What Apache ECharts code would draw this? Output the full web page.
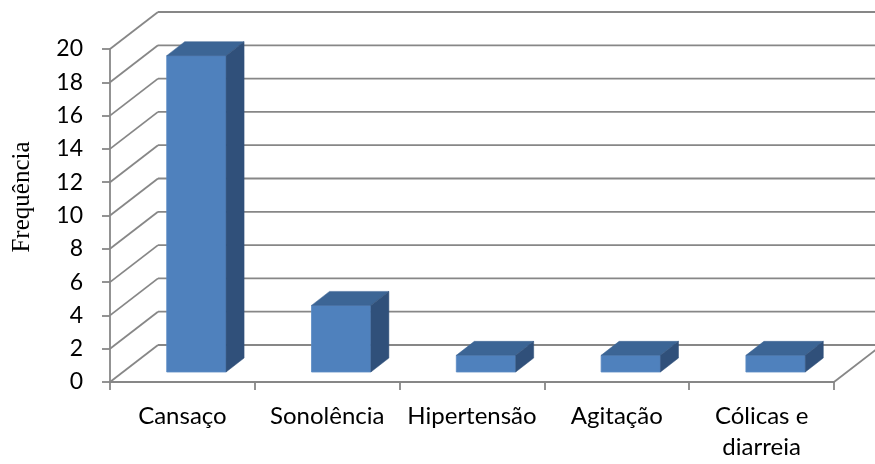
<!DOCTYPE html>
<html>
<head>
<meta charset="utf-8">
<script src="https://cdn.jsdelivr.net/npm/echarts@6/dist/echarts.min.js"></script>
<style>
  html, body { margin: 0; padding: 0; background: #fff; }
  #chart { width: 875px; height: 464px; }
</style>
</head>
<body>
<div id="chart"></div>
<script>
// Symptom frequencies
const categories = ['Cansaço', 'Sonolência', 'Hipertensão', 'Agitação', 'Cólicas e\ndiarreia'];
const frequencies = [19, 4, 1, 1, 1];
const yTicks = [0, 2, 4, 6, 8, 10, 12, 14, 16, 18, 20];

// Oblique projection of the chart box: back wall offset from the front plane
const WALL_DX = 48, WALL_DY = -37;
// Bars: front face sits partway into the box, then extends by BAR_DX/BAR_DY
const FACE_DX = 14, FACE_DY = -10;
const BAR_DX = 18, BAR_DY = -14;
const BAR_FRACTION = 0.41;

const LINE_COLOR = '#878787';
const LINE_WIDTH = 1.8;
const LABEL_FONT = 'Lato';

const chart = echarts.init(document.getElementById('chart'), null, { renderer: 'canvas' });

function renderFrame(params, api) {
  const cs = params.coordSys;
  const v = api.value(0);
  const y = api.coord([0, v])[1];
  const x0 = cs.x;
  const xEnd = cs.x + cs.width;
  const style = { stroke: LINE_COLOR, lineWidth: LINE_WIDTH, fill: null };
  const children = [
    // side-wall diagonal from the front axis to the back wall
    { type: 'line', shape: { x1: x0, y1: y, x2: x0 + WALL_DX, y2: y + WALL_DY }, style },
    // back-wall gridline
    { type: 'line', shape: { x1: x0 + WALL_DX, y1: y + WALL_DY, x2: xEnd + WALL_DX, y2: y + WALL_DY }, style }
  ];
  if (v === 0) {
    // right edge of the floor
    children.push({ type: 'line', shape: { x1: xEnd, y1: y, x2: xEnd + WALL_DX, y2: y + WALL_DY }, style });
  }
  return { type: 'group', children };
}

function renderBar(params, api) {
  const idx = api.value(0);
  const val = api.value(1);
  const base = api.coord([idx, 0]);
  const top = api.coord([idx, val]);
  const w = api.size([1, 0])[0] * BAR_FRACTION;
  const xL = base[0] - w / 2 + FACE_DX;
  const xR = xL + w;
  const yB = base[1] + FACE_DY;
  const yT = top[1] + FACE_DY;
  return {
    type: 'group',
    children: [
      { type: 'rect', shape: { x: xL, y: yT, width: w, height: yB - yT },
        style: { fill: '#4f81bd', stroke: '#5a8ac4', lineWidth: 0.8 } },
      { type: 'polygon', shape: { points: [[xL, yT], [xR, yT], [xR + BAR_DX, yT + BAR_DY], [xL + BAR_DX, yT + BAR_DY]] },
        style: { fill: '#3c6595', stroke: '#3c6595', lineWidth: 0.5 } },
      { type: 'polygon', shape: { points: [[xR, yT], [xR + BAR_DX, yT + BAR_DY], [xR + BAR_DX, yB + BAR_DY], [xR, yB]] },
        style: { fill: '#30507a', stroke: '#30507a', lineWidth: 0.5 } }
    ]
  };
}

const option = {
  animation: false,
  backgroundColor: '#ffffff',
  grid: { left: 110, right: 41, top: 49, bottom: 82, containLabel: false },
  xAxis: {
    type: 'category',
    data: categories,
    boundaryGap: true,
    axisLine: { show: true, lineStyle: { color: LINE_COLOR, width: LINE_WIDTH } },
    axisTick: { show: true, length: 8, lineStyle: { color: LINE_COLOR, width: LINE_WIDTH } },
    axisLabel: { color: '#000', fontFamily: LABEL_FONT, fontSize: 24, lineHeight: 31, margin: 19, interval: 0 },
    splitLine: { show: false }
  },
  yAxis: {
    type: 'value',
    min: 0,
    max: 20,
    interval: 2,
    axisLine: { show: true, lineStyle: { color: LINE_COLOR, width: LINE_WIDTH } },
    axisTick: { show: true, length: 8, lineStyle: { color: LINE_COLOR, width: LINE_WIDTH } },
    axisLabel: { color: '#000', fontFamily: LABEL_FONT, fontSize: 23, margin: 27 },
    splitLine: { show: false }
  },
  graphic: [{
    type: 'text',
    x: 22,
    y: 197,
    rotation: Math.PI / 2,
    style: {
      text: 'Frequência',
      fontFamily: 'Liberation Serif',
      fontSize: 25,
      fill: '#000',
      align: 'center',
      verticalAlign: 'middle'
    }
  }],
  series: [
    {
      type: 'custom',
      name: 'frame',
      coordinateSystem: 'cartesian2d',
      renderItem: renderFrame,
      data: yTicks.map(v => [v]),
      encode: { y: 0 },
      clip: false,
      silent: true,
      z: 1
    },
    {
      type: 'custom',
      name: 'Frequência',
      coordinateSystem: 'cartesian2d',
      renderItem: renderBar,
      data: frequencies.map((v, i) => [i, v]),
      encode: { x: 0, y: 1 },
      clip: false,
      z: 2
    }
  ]
};

chart.setOption(option);
</script>
</body>
</html>
